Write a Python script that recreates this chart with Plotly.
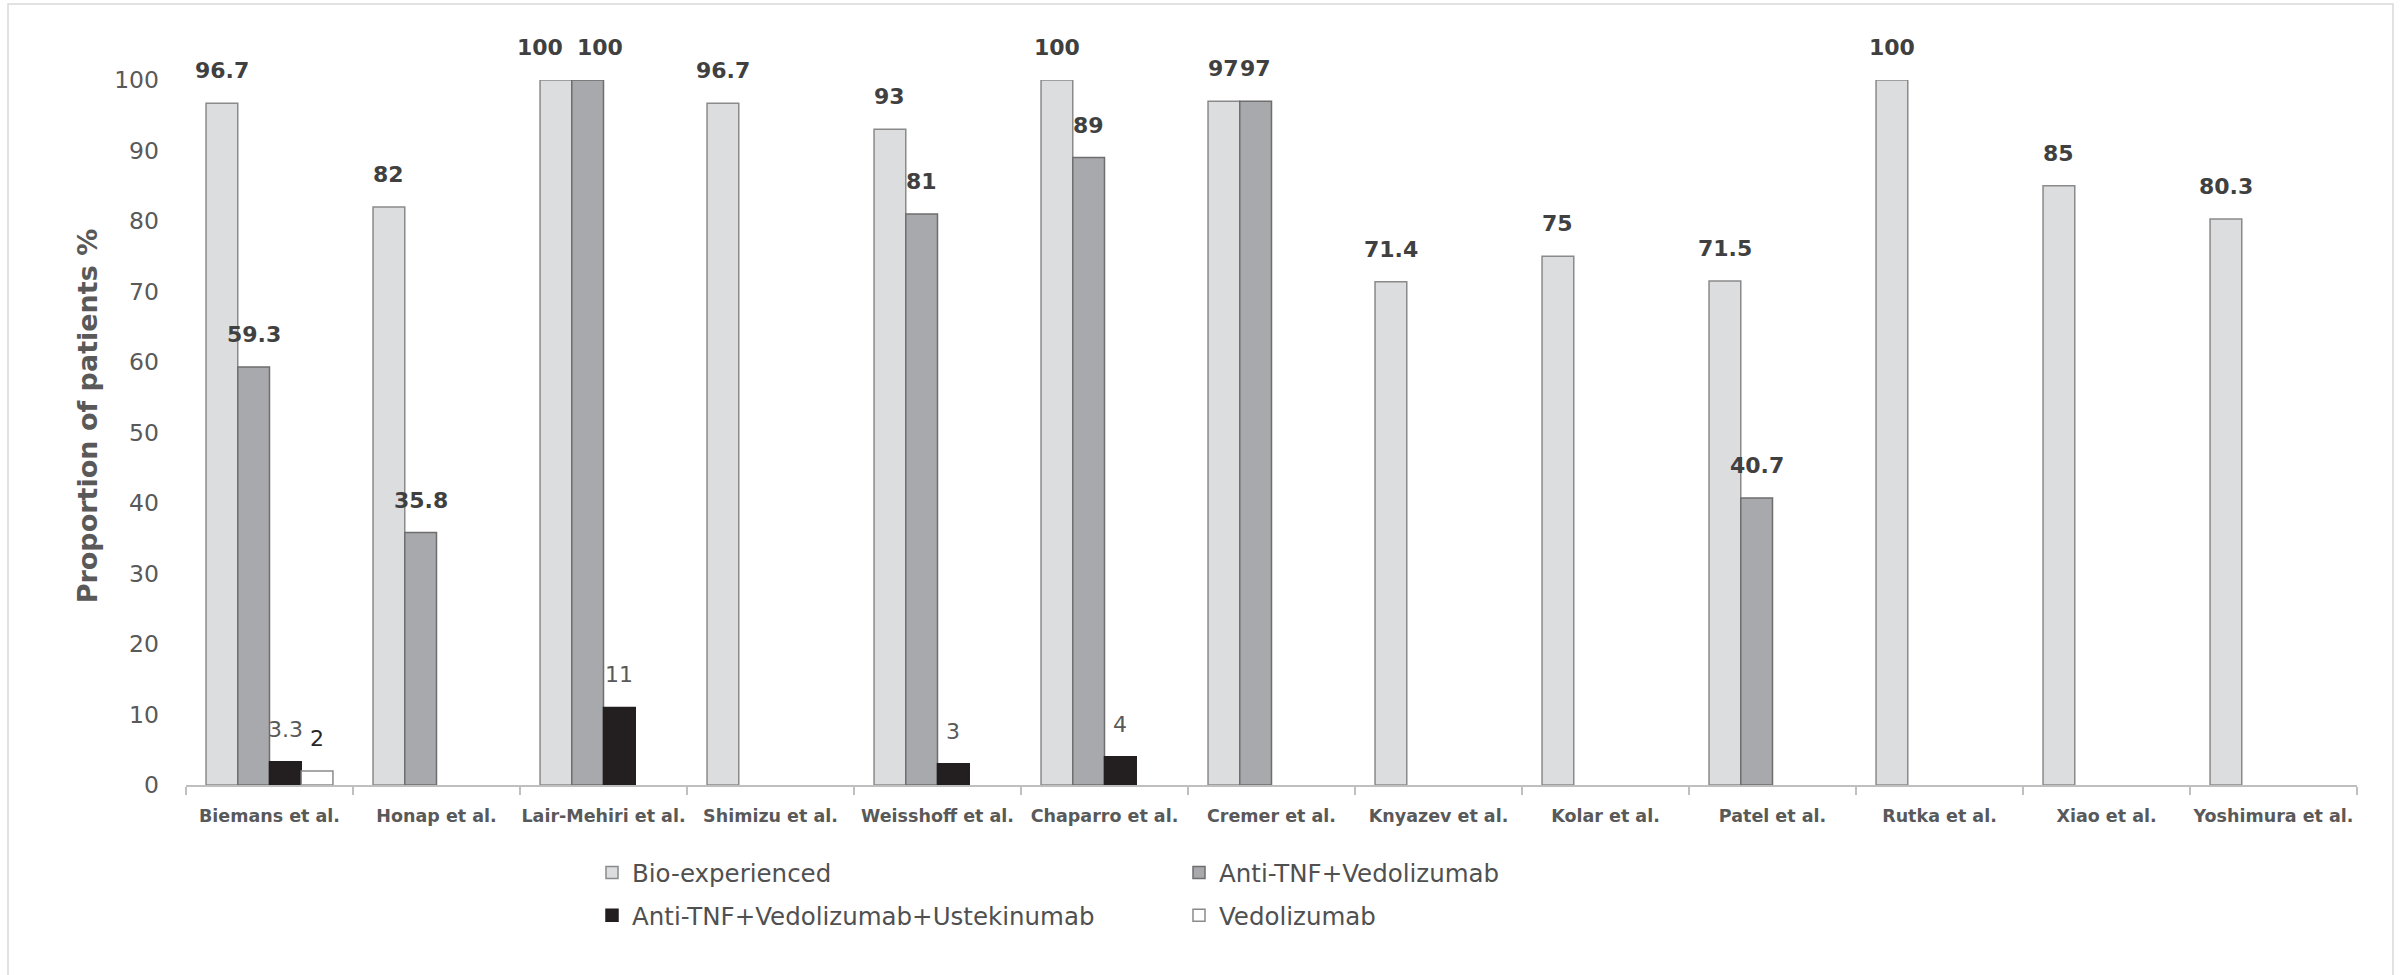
import plotly.graph_objects as go

# Studies on the category axis
studies = [
    "Biemans et al.", "Honap et al.", "Lair-Mehiri et al.", "Shimizu et al.",
    "Weisshoff et al.", "Chaparro et al.", "Cremer et al.", "Knyazev et al.",
    "Kolar et al.", "Patel et al.", "Rutka et al.", "Xiao et al.", "Yoshimura et al.",
]

# Proportion of patients (%) per prior-treatment group
bio_experienced = [96.7, 82, 100, 96.7, 93, 100, 97, 71.4, 75, 71.5, 100, 85, 80.3]
anti_tnf_vedo = [59.3, 35.8, 100, None, 81, 89, 97, None, None, 40.7, None, None, None]
anti_tnf_vedo_ust = [3.3, None, 11, None, 3, 4, None, None, None, None, None, None, None]
vedolizumab = [2, None, None, None, None, None, None, None, None, None, None, None, None]

y_ticks = list(range(0, 101, 10))

W, H = 2404, 975
L, R, T, B = 186, 47, 80, 190
BARGAP = 0.24
FONT = "DejaVu Sans"

series = [
    dict(name="Bio-experienced", y=bio_experienced, fill="#DCDDDF", edge="#8A8A8A",
         legend="legend", lab_color="#404040", lab_weight="bold"),
    dict(name="Anti-TNF+Vedolizumab", y=anti_tnf_vedo, fill="#A8A9AD", edge="#6E6E6E",
         legend="legend2", lab_color="#404040", lab_weight="bold"),
    dict(name="Anti-TNF+Vedolizumab+Ustekinumab", y=anti_tnf_vedo_ust, fill="#231F20",
         edge="#231F20", legend="legend", lab_color="#595959", lab_weight="normal"),
    dict(name="Vedolizumab", y=vedolizumab, fill="#FFFFFF", edge="#8A8A8A",
         legend="legend2", lab_color="#262626", lab_weight="normal"),
]

# Sideways nudges (px) for labels that would otherwise collide: (series index, study) -> shift
label_nudge = {(0, "Lair-Mehiri et al."): -16, (1, "Lair-Mehiri et al."): 12}

fig = go.Figure()
for i, s in enumerate(series):
    fig.add_trace(go.Bar(
        x=studies, y=s["y"], name=s["name"],
        marker=dict(color=s["fill"], line=dict(color=s["edge"], width=1.5)),
        legend=s["legend"], legendgroup=s["name"],
        hoverinfo="x+y+name",
    ))

# Value labels sitting above each bar, shifted sideways to the bar's slot in its group
plot_w = W - L - R
cat_px = plot_w / len(studies)
bar_px = cat_px * (1 - BARGAP) / len(series)
annotations = []
for i, s in enumerate(series):
    offset = (i - (len(series) - 1) / 2) * bar_px
    for study, v in zip(studies, s["y"]):
        if v is None:
            continue
        annotations.append(dict(
            x=study, y=v, xref="x", yref="y", text=f"{v:g}", showarrow=False,
            xanchor="center", yanchor="bottom",
            xshift=offset + label_nudge.get((i, study), 0), yshift=18,
            font=dict(family=FONT, size=22, color=s["lab_color"], weight=s["lab_weight"]),
        ))

# Axis title
annotations.append(dict(
    x=0, y=0.523, xref="paper", yref="paper", xshift=-(L - 87), text="Proportion of patients %",
    textangle=-90, showarrow=False, xanchor="center", yanchor="middle",
    font=dict(family=FONT, size=27, color="#595959", weight="bold"),
))

# Light frame around the whole chart area
ph = H - T - B
frame = dict(
    type="rect", xref="paper", yref="paper", layer="below",
    x0=(8 - L) / plot_w, x1=(2393 - L) / plot_w,
    y0=(H - B - 990) / ph, y1=(H - B - 4) / ph,
    line=dict(color="#D9D9D9", width=1.5), fillcolor="rgba(0,0,0,0)",
)

legend_font = dict(family=FONT, size=24.5, color="#505050")
legend_top = 1 - 850 / H
fig.update_layout(
    width=W, height=H,
    margin=dict(l=L, r=R, t=T, b=B, autoexpand=False),
    paper_bgcolor="white", plot_bgcolor="white",
    barmode="group", bargap=BARGAP, bargroupgap=0,
    font=dict(family=FONT, color="#595959"),
    annotations=annotations,
    shapes=[frame],
    xaxis=dict(
        type="category", showgrid=False, showline=True, linecolor="#BFBFBF", linewidth=1.5,
        ticks="outside", tickson="boundaries", ticklen=8, tickcolor="#BFBFBF", tickwidth=1.5,
        tickangle=0, ticklabelstandoff=14,
        tickfont=dict(family=FONT, size=17.5, color="#595959", weight="bold"),
    ),
    yaxis=dict(
        range=[0, 100], tickvals=y_ticks, showgrid=False, zeroline=False, showline=False,
        ticks="", ticklabelstandoff=26,
        tickfont=dict(family=FONT, size=23.5, color="#595959"),
    ),
    legend=dict(
        xref="container", yref="container", x=592 / W, y=legend_top,
        xanchor="left", yanchor="top", orientation="v", font=legend_font,
        bgcolor="rgba(0,0,0,0)", tracegroupgap=8, itemclick=False,
    ),
    legend2=dict(
        xref="container", yref="container", x=1179 / W, y=legend_top,
        xanchor="left", yanchor="top", orientation="v", font=legend_font,
        bgcolor="rgba(0,0,0,0)", tracegroupgap=8, itemclick=False,
    ),
    showlegend=True,
)

fig.write_html("out.html")
